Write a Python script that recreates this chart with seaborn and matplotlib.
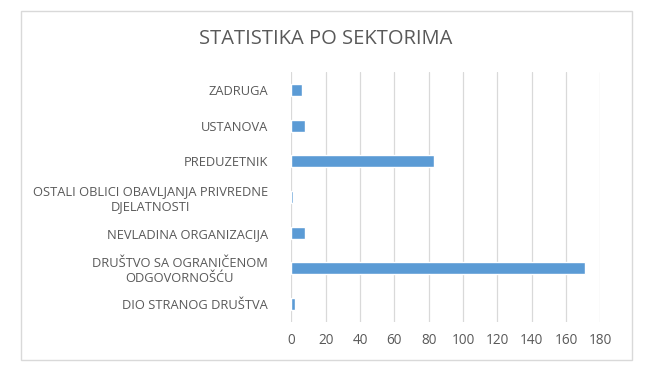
import matplotlib
matplotlib.use("Agg")
import matplotlib.pyplot as plt
import seaborn as sns
import pandas as pd
from matplotlib.patches import Rectangle

sectors = [
    "ZADRUGA",
    "USTANOVA",
    "PREDUZETNIK",
    "OSTALI OBLICI OBAVLJANJA PRIVREDNE\nDJELATNOSTI",
    "NEVLADINA ORGANIZACIJA",
    "DRUŠTVO SA OGRANIČENOM\nODGOVORNOŠĆU",
    "DIO STRANOG DRUŠTVA",
]
counts = [6, 8, 83, 1, 8, 171, 2]
x_ticks = [0, 20, 40, 60, 80, 100, 120, 140, 160, 180]

df = pd.DataFrame({"sektor": sectors, "broj": counts})

sns.set_style("white")
plt.rcParams["font.family"] = ["Open Sans", "DejaVu Sans"]
text_grey = "#595959"

fig = plt.figure(figsize=(6.52, 3.80), dpi=100)
ax = fig.add_axes([0.447, 0.153, 0.474, 0.657])

sns.barplot(data=df, x="broj", y="sektor", color="#5B9BD5", saturation=1,
            width=0.34, ax=ax)

ax.set_xlim(0, 180)
ax.set_xticks(x_ticks)
ax.grid(axis="x", color="#D9D9D9", linewidth=0.9)
ax.set_axisbelow(True)
for s in ax.spines.values():
    s.set_visible(False)
ax.set_xlabel("")
ax.set_ylabel("")
ax.tick_params(axis="both", length=0, colors=text_grey)
ax.tick_params(axis="y", pad=17, labelsize=9.3)
ax.tick_params(axis="x", pad=8, labelsize=9.8)
for lbl in ax.get_yticklabels():
    lbl.set_multialignment("center")

fig.text(0.5, 0.897, "STATISTIKA PO SEKTORIMA", ha="center", va="center",
         fontsize=14.5, color=text_grey)

# light frame around the chart area, like the Excel chart border
fig.patches.append(Rectangle((21 / 652, 1 - 360 / 380), 611 / 652, 349 / 380,
                             transform=fig.transFigure, fill=False,
                             edgecolor="#D9D9D9", linewidth=1))

fig.savefig("out.png", dpi=100, facecolor="white")
plt.close(fig)
